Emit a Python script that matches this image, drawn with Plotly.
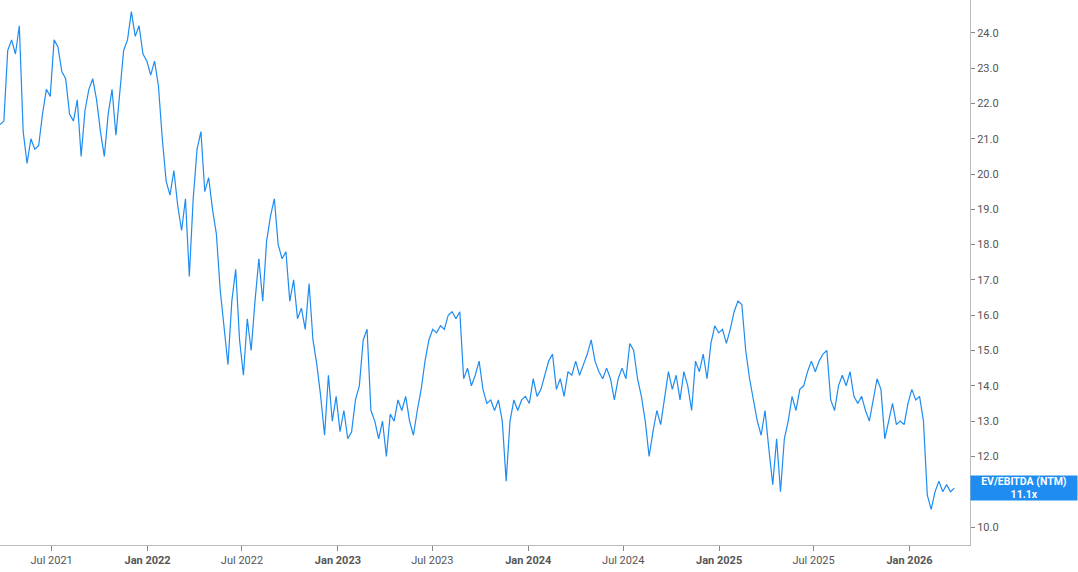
import numpy as np
import pandas as pd
import plotly.graph_objects as go

values = [21.4,21.5,23.5,23.8,23.4,24.2,21.2,20.3,21.0,20.7,20.8,21.7,22.4,22.2,23.8,23.6,22.9,22.7,21.7,21.5,
22.1,20.5,21.8,22.4,22.7,22.1,21.2,20.5,21.7,22.4,21.1,22.2,23.5,23.8,24.6,23.9,24.2,23.4,23.2,22.8,
23.2,22.5,21.0,19.8,19.4,20.1,19.1,18.4,19.3,17.1,19.3,20.7,21.2,19.5,19.9,19.0,18.3,16.7,15.6,14.6,
16.4,17.3,15.3,14.3,15.9,15.0,16.4,17.6,16.4,18.1,18.8,19.3,18.0,17.6,17.8,16.4,17.0,15.9,16.2,15.6,
16.9,15.3,14.6,13.7,12.6,14.3,13.0,13.7,12.7,13.3,12.5,12.7,13.6,14.0,15.3,15.6,13.3,13.0,12.5,13.0,
12.0,13.2,13.0,13.6,13.3,13.7,13.0,12.6,13.3,13.9,14.7,15.3,15.6,15.5,15.7,15.6,16.0,16.1,15.9,16.1,
14.2,14.5,14.0,14.3,14.7,13.9,13.5,13.6,13.3,13.6,13.0,11.3,13.0,13.6,13.3,13.6,13.7,13.5,14.2,13.7,
13.9,14.3,14.7,14.9,13.9,14.2,13.7,14.4,14.3,14.7,14.3,14.6,14.9,15.3,14.7,14.4,14.2,14.5,14.2,13.6,
14.2,14.5,14.2,15.2,15.0,14.2,13.7,13.0,12.0,12.7,13.3,12.9,13.7,14.4,13.9,14.3,13.6,14.4,14.0,13.3,
14.7,14.4,14.9,14.2,15.2,15.7,15.5,15.6,15.2,15.6,16.1,16.4,16.3,15.0,14.2,13.6,13.0,12.6,13.3,12.2,
11.2,12.5,11.0,12.5,13.0,13.7,13.3,13.9,14.0,14.4,14.7,14.4,14.7,14.9,15.0,13.6,13.3,14.0,14.3,14.0,
14.4,13.7,13.5,13.7,13.3,13.0,13.6,14.2,13.9,12.5,13.0,13.5,12.9,13.0,12.9,13.5,13.9,13.6,13.7,13.0,
10.9,10.5,11.0,11.3,11.0,11.2,11.0,11.1]
start_date, end_date = "2021-03-24", "2026-03-28"
dates = pd.to_datetime(np.linspace(pd.Timestamp(start_date).value, pd.Timestamp(end_date).value, len(values)))

tick_dates = ["2021-07-01","2022-01-01","2022-07-01","2023-01-01","2023-07-01","2024-01-01",
              "2024-07-01","2025-01-01","2025-07-01","2026-01-01"]
tick_labels = ["Jul 2021","<b>Jan 2022</b>","Jul 2022","<b>Jan 2023</b>","Jul 2023","<b>Jan 2024</b>",
               "Jul 2024","<b>Jan 2025</b>","Jul 2025","<b>Jan 2026</b>"]
y_ticks = [10,11,12,13,14,15,16,17,18,19,20,21,22,23,24,25]
series_name = "EV/EBITDA (NTM)"
last_value = 11.1

fig = go.Figure(go.Scatter(x=dates, y=values, mode="lines", line=dict(color="#1e8cf0", width=1.2),
                           name=series_name))
fig.update_layout(
    width=1078, height=572, margin=dict(l=0, r=108, t=0, b=27, autoexpand=False),
    paper_bgcolor="white", plot_bgcolor="white", showlegend=False,
    font=dict(family="Roboto, Arial, sans-serif", color="#555"),
    xaxis=dict(range=["2021-03-24","2026-04-27"], tickvals=tick_dates, ticktext=tick_labels,
               showgrid=False, showline=True, linecolor="#bbb", ticks="outside", ticklen=5,
               tickcolor="#888", tickfont=dict(size=11, color="#555"), automargin=False),
    yaxis=dict(side="right", range=[9.49, 24.93], tickvals=y_ticks, tickformat=".1f", ticksuffix="x",
               showgrid=False, showline=True, linecolor="#bbb", ticks="outside", ticklen=4,
               tickcolor="#888", tickfont=dict(size=11, color="#555"), zeroline=False, automargin=False),
)
fig.add_annotation(xref="paper", x=1.0, y=last_value, xanchor="left", yanchor="middle",
                   text=f"<b>{series_name}<br>{last_value:.1f}x</b>", showarrow=False,
                   bgcolor="#1e8cf0", font=dict(color="white", size=10.5), width=106, height=24,
                   borderpad=0)
fig.write_html("out.html", config={"displayModeBar": False},
               post_script="document.body.style.margin='0';document.body.style.overflow='hidden';")
